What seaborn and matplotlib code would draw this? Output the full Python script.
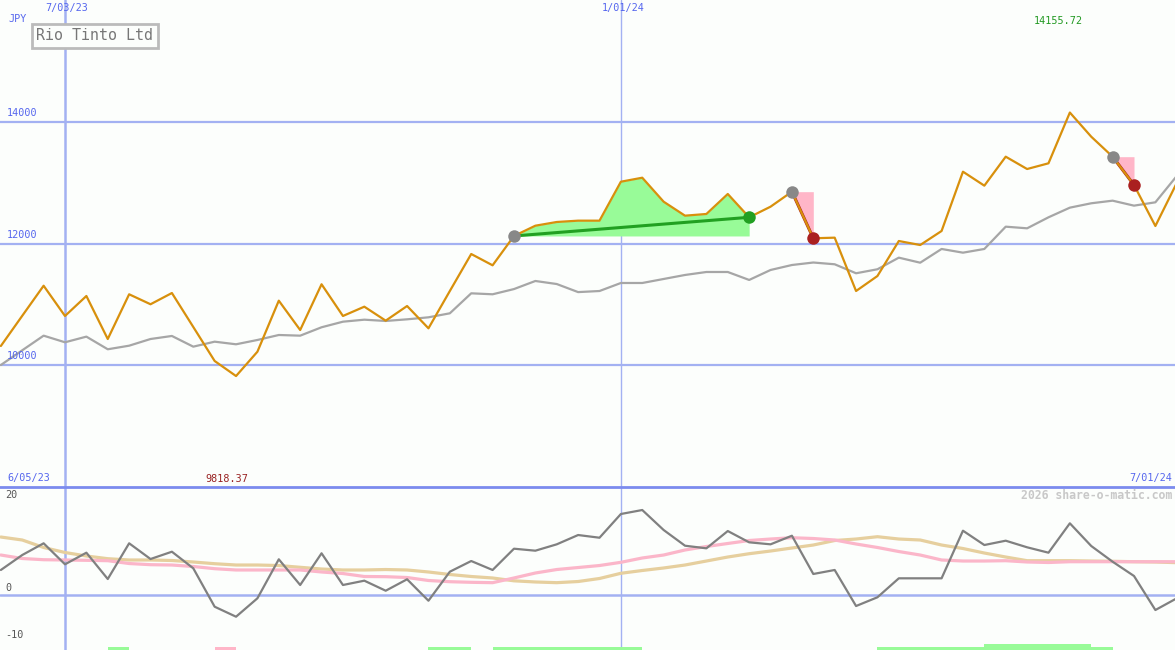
import numpy as np
import pandas as pd
import matplotlib
matplotlib.use("Agg")
import matplotlib.pyplot as plt
import seaborn as sns

# ---------------- data ----------------
dates = pd.date_range("2023-06-12", periods=56, freq="7D")

price = [10313, 10810, 11305, 10807, 11136, 10428, 11164, 11000, 11185, 10626,
         10066, 9818.37, 10219, 11059, 10576, 11329, 10807, 10960, 10730, 10971,
         10604, 11218, 11827, 11641, 12124, 12293, 12354, 12376, 12376, 13017,
         13083, 12688, 12458, 12486, 12815, 12431, 12606, 12853, 12086, 12096,
         11218, 11465, 12041, 11975, 12206, 13182, 12952, 13429, 13226, 13320,
         14155.72, 13758, 13429, 12963, 12288, 12996]

avg = [10000, 10242, 10483, 10374, 10467, 10259, 10318, 10428, 10478, 10302,
       10384, 10341, 10412, 10494, 10483, 10621, 10713, 10746, 10725, 10752,
       10785, 10851, 11180, 11164, 11250, 11383, 11333, 11200, 11218, 11350,
       11350, 11416, 11482, 11531, 11531, 11400, 11564, 11646, 11687, 11658,
       11510, 11576, 11767, 11684, 11910, 11849, 11910, 12277, 12250, 12431,
       12590, 12662, 12705, 12623, 12678, 13111]

mom = [5.38, 8.60, 11.12, 6.60, 9.10, 3.44, 11.12, 7.74, 9.31, 5.74,
       -2.52, -4.67, -0.71, 7.68, 2.15, 8.97, 2.15, 3.08, 0.92, 3.38,
       -1.23, 5.01, 7.31, 5.38, 9.96, 9.53, 10.90, 12.90, 12.32, 17.42,
       18.28, 13.98, 10.60, 10.04, 13.76, 11.33, 10.90, 12.75, 4.52, 5.38,
       -2.37, -0.49, 3.59, 3.59, 3.59, 13.83, 10.75, 11.68, 10.26, 9.10,
       15.42, 10.54, 7.16, 4.09, -3.23, -0.71]

mom_fast = [8.60, 7.85, 7.59, 7.53, 7.46, 7.38, 6.77, 6.52, 6.45, 6.13,
            5.66, 5.38, 5.38, 5.38, 5.38, 4.95, 4.62, 3.98, 3.94, 3.76,
            3.12, 2.86, 2.73, 2.65, 3.66, 4.73, 5.48, 5.91, 6.34, 7.03,
            7.96, 8.60, 9.68, 10.43, 11.08, 11.72, 12.04, 12.32, 12.15, 11.83,
            10.97, 10.22, 9.35, 8.60, 7.53, 7.31, 7.31, 7.38, 7.10, 6.99,
            7.16, 7.16, 7.16, 7.16, 7.16, 7.16]

mom_slow = [12.47, 11.83, 10.22, 9.14, 8.39, 7.81, 7.53, 7.53, 7.42, 7.10,
            6.73, 6.45, 6.45, 6.34, 5.96, 5.59, 5.38, 5.38, 5.48, 5.38,
            4.95, 4.41, 3.98, 3.66, 3.05, 2.80, 2.65, 2.90, 3.55, 4.67,
            5.27, 5.81, 6.45, 7.31, 8.17, 8.88, 9.46, 10.11, 10.75, 11.72,
            12.04, 12.54, 12.04, 11.83, 10.75, 10.00, 9.03, 8.17, 7.38, 7.38,
            7.38, 7.31, 7.25, 7.16, 7.10, 6.95]

top_ticks = [10000, 12000, 14000]
bottom_ticks = [20, 0, -10]
date_lines = ["2023-07-03", "2024-01-01"]
date_line_labels = ["7/03/23", "1/01/24"]
first_label, last_label = "6/05/23", "7/01/24"
title = "Rio Tinto Ltd"
currency = "JPY"
credit = "2026 share-o-matic.com"

# trades (index of entry, index of exit, outcome)
trades = [(24, 35, "win"), (37, 38, "loss"), (52, 53, "loss")]
# signal strip: (start week index, end week index, colour kind, height px)
sig_start = [5, 10, 20, 23, 41, 46]
sig_end = [6, 11, 22, 30, 52, 51]
sig_kind = ["buy", "sell", "buy", "buy", "buy", "buy"]
sig_tall = [False, False, False, False, False, True]

# ---------------- style ----------------
sns.set_style("white")
plt.rcParams["font.family"] = ["DejaVu Sans Mono", "DejaVu Sans"]

W, H = 1175, 650
TOP_H = 487
bg = "#fcfefc"
grid_c = "#a3b1f2"
blue_txt = "#5566ee"

x0date = pd.Timestamp("2023-07-03")
x = np.asarray((dates - x0date).days / 7.0)
df = pd.DataFrame({"x": x, "price": price, "avg": avg, "mom": mom,
                   "fast": mom_fast, "slow": mom_slow})

fig = plt.figure(figsize=(W / 100, H / 100), dpi=100)
fig.patch.set_facecolor(bg)
ax = fig.add_axes([0, (H - TOP_H) / H, 1, TOP_H / H])
ax2 = fig.add_axes([0, 0, 1, (H - TOP_H) / H])

px_per_week = 21.38
xl = (0 - 65) / px_per_week
xr = (W - 65) / px_per_week
for a in (ax, ax2):
    a.set_facecolor(bg)
    a.set_xlim(xl, xr)
    a.set_xticks([])
    a.set_yticks([])
    a.set_xlabel("")
    a.set_ylabel("")
    for s in a.spines.values():
        s.set_visible(False)

ax.set_ylim(7992, 16008)
ax2.set_ylim(-11.83, 23.23)

# grid lines
for v in top_ticks:
    ax.axhline(v, color=grid_c, lw=1.6, zorder=1)
ax2.axhline(0, color=grid_c, lw=1.8, zorder=1)
for d, lw in zip(date_lines, [1.8, 1.0]):
    xv = (pd.Timestamp(d) - x0date).days / 7.0
    ax.axvline(xv, color=grid_c, lw=lw, zorder=1)
    ax2.axvline(xv, color=grid_c, lw=lw, zorder=1)

# trades shading
p = np.array(price)
for i0, i1, kind in trades:
    if kind == "win":
        ax.fill_between(x[i0:i1 + 1], p[i0:i1 + 1], p[i0], color="#98fb98",
                        lw=0, zorder=2)
    else:
        ax.fill_between(x[i0:i1 + 1], p[i0:i1 + 1], p[i0], color="#ffb6c8",
                        lw=0, zorder=2)

sns.lineplot(data=df, x="x", y="avg", ax=ax, color="#a6a6a6", lw=1.6, zorder=3)
for i0, i1, kind in trades:
    c = "#22a022" if kind == "win" else "#aa2020"
    ax.plot([x[i0], x[i1]], [p[i0], p[i1]], color=c, lw=2.2, zorder=3)
sns.lineplot(data=df, x="x", y="price", ax=ax, color="#d8900c", lw=1.6, zorder=4)
for i0, i1, kind in trades:
    c = "#22a022" if kind == "win" else "#aa2020"
    ax.plot([x[i0]], [p[i0]], "o", color="#888888", ms=9, mec="none", zorder=5)
    ax.plot([x[i1]], [p[i1]], "o", color=c, ms=9, mec="none", zorder=5)
ax.set_xlabel(""); ax.set_ylabel("")

# bottom panel
sns.lineplot(data=df, x="x", y="slow", ax=ax2, color="#e6cf9e", lw=2.3, zorder=2)
sns.lineplot(data=df, x="x", y="fast", ax=ax2, color="#fbb6c9", lw=2.3, zorder=2)
sns.lineplot(data=df, x="x", y="mom", ax=ax2, color="#808080", lw=1.6, zorder=3)
ax2.set_xlabel(""); ax2.set_ylabel("")
ax2.spines["top"].set_visible(True)
ax2.spines["top"].set_color("#7b8bee")
ax2.spines["top"].set_linewidth(2.0)

lo = ax2.get_ylim()[0]
unit_px = 163 / (23.23 + 11.83)
for s0, s1, k, tall in zip(sig_start, sig_end, sig_kind, sig_tall):
    hpx = 6.0 if tall else 3.3
    c = "#98fb98" if k == "buy" else "#ffb6c8"
    ax2.bar(x[s0], hpx / unit_px, width=x[s1] - x[s0], bottom=lo,
            align="edge", color=c, lw=0, zorder=4)

# ---------------- texts ----------------
fs = 7.3
tr = ax.get_yaxis_transform()
for v in top_ticks:
    ax.text(7 / W, v + 60, str(v), transform=tr, color=blue_txt, fontsize=fs,
            ha="left", va="bottom")
tr2 = ax2.get_yaxis_transform()
for v in bottom_ticks:
    ax2.text(5 / W, max(v + 0.4, lo + 0.8), str(v), transform=tr2,
             color="#555555", fontsize=fs, ha="left", va="bottom")

trx = ax.get_xaxis_transform()
for d, lab in zip(date_lines, date_line_labels):
    xv = (pd.Timestamp(d) - x0date).days / 7.0
    ax.text(xv + 0.1, 1 - 8.5 / TOP_H, lab, transform=trx, color=blue_txt,
            fontsize=fs, ha="center", va="center")

ax.text(8 / W, 1 - 19.5 / TOP_H, currency, transform=ax.transAxes,
        color=blue_txt, fontsize=fs, ha="left", va="center")
ax.text(7 / W, 1 - 478.5 / TOP_H, first_label, transform=ax.transAxes,
        color=blue_txt, fontsize=fs, ha="left", va="center")
ax.text(1172 / W, 1 - 478.5 / TOP_H, last_label, transform=ax.transAxes,
        color=blue_txt, fontsize=fs, ha="right", va="center")

imax = int(np.argmax(p)); imin = int(np.argmin(p))
ax.text(x[imax] - 0.55, 1 - 20.5 / TOP_H, f"{p[imax]:.2f}", transform=trx,
        color="#229922", fontsize=fs, ha="center", va="center")
ax.text(x[imin] - 0.45, 1 - 478.5 / TOP_H, f"{p[imin]:.2f}", transform=trx,
        color="#992222", fontsize=fs, ha="center", va="center")

fig.text(1172 / W, 1 - 495.5 / H, credit, color="#c8c8c8", fontsize=8.3,
         ha="right", va="center", fontweight="bold")

fig.text(95 / W, 1 - 36 / H, title, color="#777777", fontsize=10.8,
         ha="center", va="center",
         bbox=dict(boxstyle="square,pad=0.28", fc=bg, ec="#bbbbbb", lw=2))

fig.savefig("out.png", dpi=100, facecolor=bg)
